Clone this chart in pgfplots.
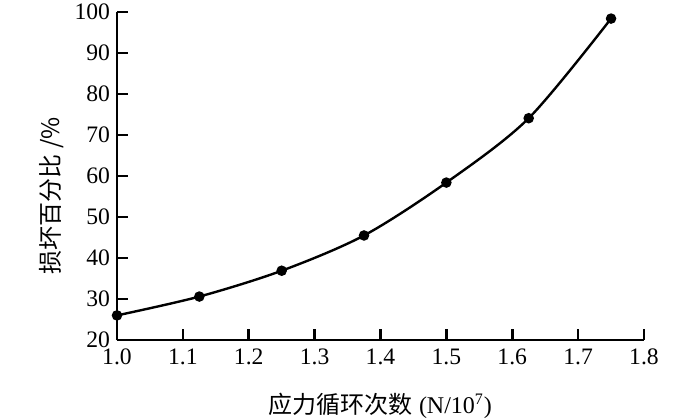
\documentclass[border=0pt]{standalone}
\usepackage{fontspec}
\setmainfont{Liberation Serif}
\newfontfamily\cjk{Noto Sans CJK SC}
\usepackage{pgfplots}
\pgfplotsset{compat=1.18}
\begin{document}
\begin{tikzpicture}
\path[use as bounding box] (-58.5pt,-39.5pt) rectangle (291.5pt,170pt);
\begin{axis}[
    at={(0,0)}, anchor=south west,
    scale only axis,
    width=263.5pt, height=164pt,
    xmin=1.0, xmax=1.8, ymin=20, ymax=100,
    xtick={1.0,1.1,...,1.8},
    ytick={20,30,...,100},
    xticklabel style={/pgf/number format/fixed, /pgf/number format/fixed zerofill,
        /pgf/number format/precision=1, yshift=-1pt},
    /pgf/number format/assume math mode=true,
    axis lines=left,
    axis line style={-, line width=1.3pt},
    tick align=inside,
    major tick length=5.5pt,
    tick style={line width=1.3pt, black},
    ticklabel style={font=\fontsize{11.8}{14}\selectfont},
    xlabel={{\cjk 应力循环次数} (N/10\textsuperscript{7})},
    xlabel style={font=\fontsize{12}{14}\selectfont, at={(axis description cs:0.5,-0.2)}, anchor=center},
    ylabel={\cjk 损坏百分比 /\%},
    ylabel style={font=\fontsize{12}{14}\selectfont, at={(axis description cs:-0.125,0.44)}, anchor=center},
    clip=false,
    ]
\addplot[black, line width=1.2pt, smooth, mark=*, mark size=2pt] coordinates {
    (1.0,26.0) (1.125,30.6) (1.25,36.9) (1.375,45.5)
    (1.5,58.4) (1.625,74.1) (1.75,98.4)
};
\end{axis}
\end{tikzpicture}
\end{document}
